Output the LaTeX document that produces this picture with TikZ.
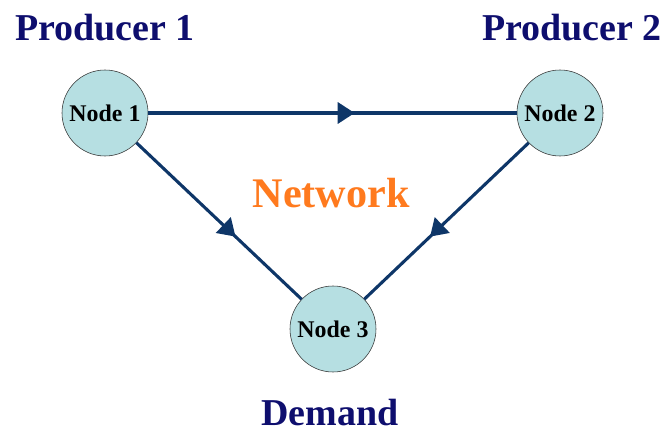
\documentclass[tikz,border=0pt]{standalone}
\usepackage{fontspec}
\setmainfont{Liberation Serif}
\usepackage{tikz}
\usetikzlibrary{arrows.meta, decorations.markings}
\definecolor{linkblue}{RGB}{14, 54, 104}
\definecolor{labelnavy}{RGB}{14, 14, 110}
\definecolor{nodecyan}{RGB}{182, 223, 226}
\definecolor{netorange}{RGB}{255, 122, 30}

\tikzset{
    site/.style={circle, draw=black!80, thin, fill=nodecyan, minimum size=2.15cm,
        inner sep=0pt, font=\fontsize{17}{19}\selectfont\bfseries},
    role/.style={text=labelnavy, font=\fontsize{27}{30}\selectfont\bfseries},
    link/.style={draw=linkblue, line width=2.2pt, postaction={decorate},
        decoration={markings, mark=at position #1 with
            {\arrow{Triangle[length=12pt, width=15pt]}}}}
}

\begin{document}
\begin{tikzpicture}
    \useasboundingbox (0,0) rectangle (16.8,10.825);
    % Network nodes
    \node[site] (n1) at (2.625, 8.0) {Node 1};
    \node[site] (n2) at (14.0, 8.0) {Node 2};
    \node[site] (n3) at (8.325, 2.6) {Node 3};
    % Roles
    \node[role] (p1) at (2.63, 10.13) {Producer 1};
    \node[role] (p2) at (14.3, 10.13) {Producer 2};
    \node[role] (dm) at (8.25, 0.5) {Demand};
    \node[text=netorange, font=\fontsize{30}{34}\selectfont\bfseries] (net) at (8.28, 6.0) {Network};
    % Flows
    \draw[link=0.56] (n1) -- (n2);
    \draw[link=0.6] (n1) -- (n3);
    \draw[link=0.6] (n2) -- (n3);
\end{tikzpicture}
\end{document}
